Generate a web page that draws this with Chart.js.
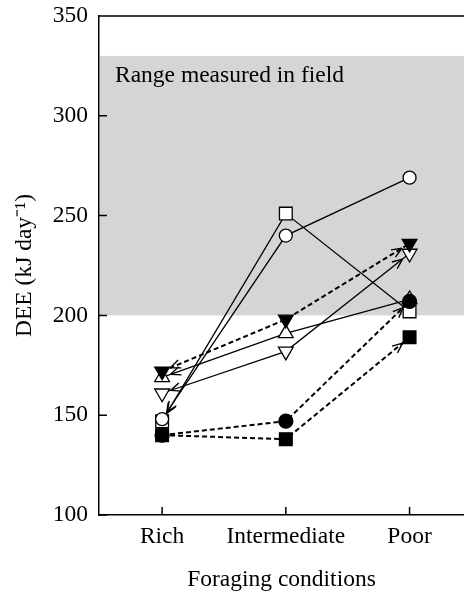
<!DOCTYPE html>
<html>
<head>
<meta charset="utf-8">
<script src="https://cdn.jsdelivr.net/npm/chart.js@4.4.1/dist/chart.umd.min.js"></script>
<style>
  html, body { margin: 0; padding: 0; background: #fff; }
</style>
</head>
<body>
<canvas id="deeChart" width="464" height="592"></canvas>
<script>
// foraging conditions on the x axis, DEE (kJ/day) on the y axis
const categories = ["Rich", "Intermediate", "Poor"];
const yTicks = [100, 150, 200, 250, 300, 350];
const fieldRange = [200, 330];
const fieldLabel = "Range measured in field";

// one bird per series: values at Rich, Intermediate, Poor
const filledSquare = [140, 138, 189];
const filledCircle = [140, 147, 207];
const filledInvTri = [172, 198, 236];
const openCircle = [148, 240, 269];
const openSquare = [147, 251, 202];
const openTri = [169, 191, 208];
const openInvTri = [161, 182, 231];

// which ends get an arrow (lines start from Intermediate)
const filledSquareArrows = ["Poor"];
const filledCircleArrows = ["Poor"];
const filledInvTriArrows = ["Rich", "Poor"];
const openCircleArrows = ["Rich"];
const openSquareArrows = ["Rich"];
const openTriArrows = ["Rich"];
const openInvTriArrows = ["Rich", "Poor"];

const FONT = "'Liberation Serif', 'Times New Roman', serif";

function makeSeries(label, values, arrows, opts) {
    return Object.assign({
        label: label,
        data: values.map((v, i) => ({ x: i + 1, y: v })),
        arrowTo: arrows,
        borderColor: "#000",
        borderWidth: 1.3,
        pointBorderColor: "#000",
        pointBorderWidth: 1.3,
        pointBackgroundColor: "#fff",
        tension: 0,
        fill: false
    }, opts);
}

const dashed = { borderDash: [5, 3], borderWidth: 2, pointBackgroundColor: "#000" };

let datasets = [
    makeSeries("filled square", filledSquare, filledSquareArrows, Object.assign({ pointStyle: "rect", pointRadius: 9 }, dashed)),
    makeSeries("filled circle", filledCircle, filledCircleArrows, Object.assign({ pointStyle: "circle", pointRadius: 7 }, dashed)),
    makeSeries("filled inverted triangle", filledInvTri, filledInvTriArrows, Object.assign({ pointStyle: "triangle", pointRotation: 180, pointRadius: 8.5 }, dashed)),
    makeSeries("open circle", openCircle, openCircleArrows, { pointStyle: "circle", pointRadius: 6.5 }),
    makeSeries("open square", openSquare, openSquareArrows, { pointStyle: "rect", pointRadius: 9 }),
    makeSeries("open triangle", openTri, openTriArrows, { pointStyle: "triangle", pointRadius: 8.5 }),
    makeSeries("open inverted triangle", openInvTri, openInvTriArrows, { pointStyle: "triangle", pointRotation: 180, pointRadius: 8.5 })
];

// shaded field range, its label, inward tick marks and the top frame line
const framePlugin = {
    id: "frame",
    beforeDatasetsDraw(chart) {
        let ctx = chart.ctx;
        let area = chart.chartArea;
        let xs = chart.scales.x, ys = chart.scales.y;
        let top = ys.getPixelForValue(fieldRange[1]);
        let bottom = ys.getPixelForValue(fieldRange[0]);
        ctx.save();
        ctx.fillStyle = "#d5d5d5";
        ctx.fillRect(area.left + 1, top, area.right - area.left, bottom - top);
        ctx.fillStyle = "#000";
        ctx.font = "23.5px " + FONT;
        ctx.textBaseline = "alphabetic";
        ctx.fillText(fieldLabel, area.left + 16, top + 26);

        ctx.strokeStyle = "#000";
        ctx.lineWidth = 1.5;
        ctx.beginPath();
        xs.ticks.forEach(t => {
            let px = xs.getPixelForValue(t.value);
            ctx.moveTo(px, area.bottom);
            ctx.lineTo(px, area.bottom - 8);
        });
        ys.ticks.forEach(t => {
            let py = ys.getPixelForValue(t.value);
            ctx.moveTo(area.left, py);
            ctx.lineTo(area.left + 8, py);
        });
        ctx.moveTo(area.left - 0.75, area.top);
        ctx.lineTo(chart.width, area.top);
        ctx.stroke();
        ctx.restore();
    }
};

const arrowPlugin = {
    id: "arrows",
    afterDatasetsDraw(chart) {
        let ctx = chart.ctx;
        chart.data.datasets.forEach((ds, di) => {
            let pts = chart.getDatasetMeta(di).data;
            ds.arrowTo.forEach(name => {
                let end = pts[categories.indexOf(name)];
                let start = pts[1];
                let ang = Math.atan2(end.y - start.y, end.x - start.x);
                let tipX = end.x - Math.cos(ang) * 9;
                let tipY = end.y - Math.sin(ang) * 9;
                ctx.save();
                ctx.strokeStyle = "#000";
                ctx.lineWidth = 1.4;
                ctx.beginPath();
                [-0.4, 0.4].forEach(d => {
                    ctx.moveTo(tipX, tipY);
                    ctx.lineTo(tipX - Math.cos(ang + d) * 11, tipY - Math.sin(ang + d) * 11);
                });
                ctx.stroke();
                ctx.restore();
            });
        });
    }
};

new Chart(document.getElementById("deeChart").getContext("2d"), {
    type: "line",
    data: { datasets: datasets },
    options: {
        responsive: false,
        animation: false,
        layout: { autoPadding: false, padding: { top: 16, right: 0, left: 0, bottom: 0 } },
        plugins: {
            legend: { display: false },
            tooltip: { enabled: false }
        },
        scales: {
            x: {
                type: "linear",
                min: 0.49,
                max: 3.44,
                afterBuildTicks: (scale) => {
                    scale.ticks = categories.map((c, i) => ({ value: i + 1 }));
                },
                afterFit: (scale) => {
                    scale.height = 77;
                    scale.paddingLeft = 0;
                    scale.paddingRight = 0;
                },
                grid: { display: true, drawOnChartArea: false, drawTicks: false },
                border: { display: true, color: "#000", width: 1.5 },
                ticks: {
                    color: "#000",
                    padding: 8,
                    maxRotation: 0,
                    font: { family: FONT, size: 23.5 },
                    callback: (value) => categories[value - 1]
                },
                title: {
                    display: true,
                    text: "Foraging conditions",
                    color: "#000",
                    font: { family: FONT, size: 23.5, lineHeight: 1 },
                    padding: { top: 0, bottom: 0 }
                }
            },
            y: {
                min: 100,
                max: 350,
                afterBuildTicks: (scale) => {
                    scale.ticks = yTicks.map(v => ({ value: v }));
                },
                afterFit: (scale) => {
                    scale.width = 99;
                    scale.paddingTop = 0;
                    scale.paddingBottom = 0;
                },
                grid: { display: true, drawOnChartArea: false, drawTicks: false },
                border: { display: true, color: "#000", width: 1.5 },
                ticks: {
                    color: "#000",
                    padding: 11,
                    font: { family: FONT, size: 23.5 }
                },
                title: {
                    display: true,
                    text: "DEE (kJ day\u207B\u00B9)",
                    color: "#000",
                    font: { family: FONT, size: 23.5, lineHeight: 1 },
                    padding: { top: 13, bottom: 0 }
                }
            }
        }
    },
    plugins: [framePlugin, arrowPlugin]
});
</script>
</body>
</html>
